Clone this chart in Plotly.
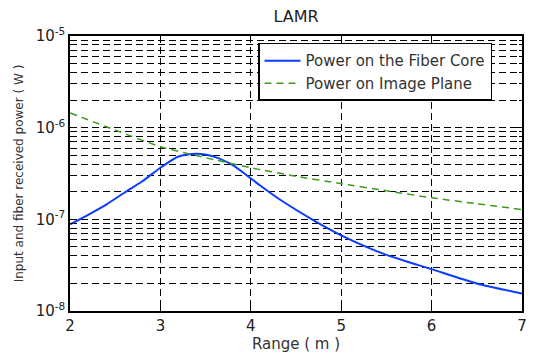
import plotly.graph_objects as go

# Data
range_core = [2.0, 2.2, 2.4, 2.6, 2.8, 3.0, 3.2, 3.4, 3.6, 3.8, 3.95, 4.1, 4.3, 4.7, 5.0, 5.5, 6.0, 6.5, 7.0]
power_core = [8.8e-8, 1.12e-7, 1.45e-7, 1.95e-7, 2.6e-7, 3.65e-7, 4.85e-7, 5.2e-7, 4.8e-7, 3.9e-7, 3.05e-7, 2.35e-7, 1.7e-7, 9.7e-8, 6.7e-8, 4.1e-8, 2.86e-8, 2.0e-8, 1.55e-8]

range_image = [2.0, 2.5, 3.0, 3.5, 4.0, 4.5, 5.0, 5.5, 6.0, 6.5, 7.0]
power_image = [1.45e-6, 9.4e-7, 6.2e-7, 4.7e-7, 3.65e-7, 2.95e-7, 2.45e-7, 2.05e-7, 1.72e-7, 1.48e-7, 1.28e-7]

x_ticks = [2, 3, 4, 5, 6, 7]
y_ticks = [1e-8, 1e-7, 1e-6, 1e-5]
y_tick_text = ["10<sup>-8</sup>", "10<sup>-7</sup>", "10<sup>-6</sup>", "10<sup>-5</sup>"]
y_minor = [k * 10.0 ** n for n in (-8, -7, -6) for k in range(2, 10)]

font = "DejaVu Sans, sans-serif"
txt = "#222"

fig = go.Figure()
fig.add_trace(go.Scatter(x=range_core, y=power_core, mode="lines",
                         name="Power on the Fiber Core",
                         line=dict(color="#0a3cff", width=2, shape="spline", smoothing=0.7)))
fig.add_trace(go.Scatter(x=range_image, y=power_image, mode="lines",
                         name="Power on Image Plane",
                         line=dict(color="#3c9a1c", width=1.5, dash="7px,5px", shape="spline", smoothing=0.5)))

fig.update_layout(
    width=533, height=355,
    margin=dict(l=70, r=6, t=36, b=44),
    paper_bgcolor="white", plot_bgcolor="white",
    font=dict(family=font, size=12, color=txt),
    title=dict(text="LAMR", x=0.5, xref="paper", xanchor="center", y=0.955, yanchor="middle",
               font=dict(family=font, size=16, color=txt)),
    showlegend=True,
    legend=dict(x=0.416, y=0.975, xanchor="left", yanchor="top",
                bgcolor="white", bordercolor="black", borderwidth=1.5,
                font=dict(family=font, size=15, color="#333"),
                tracegroupgap=0, itemwidth=36),
)
fig.update_xaxes(
    range=[2, 7], tickvals=x_ticks, ticks="inside", ticklen=5, tickcolor="black",
    showline=True, linecolor="black", linewidth=1.5, mirror="ticks",
    showgrid=True, gridcolor="black", griddash="7px,4px", gridwidth=1,
    zeroline=False, tickfont=dict(family=font, size=15, color=txt),
    title=dict(text="Range ( m )", standoff=4, font=dict(family=font, size=15, color="#333")),
)
fig.update_yaxes(
    type="log", range=[-8, -5], tickvals=y_ticks, ticktext=y_tick_text,
    ticks="inside", ticklen=5, tickcolor="black",
    showline=True, linecolor="black", linewidth=1.5, mirror="ticks",
    showgrid=True, gridcolor="black", griddash="7px,4px", gridwidth=1,
    tickfont=dict(family=font, size=15, color=txt),
    minor=dict(tickvals=y_minor, ticks="inside", ticklen=3, tickcolor="black",
               showgrid=True, gridcolor="black", griddash="7px,4px", gridwidth=1),
    title=dict(text="Input and fiber received power ( W )", standoff=9,
               font=dict(family=font, size=12, color="#333")),
)

fig.write_html("out.html")
